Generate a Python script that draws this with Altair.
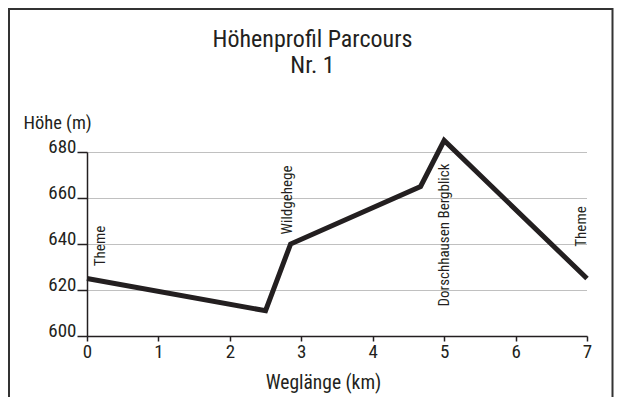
import altair as alt
import pandas as pd

# ---- data ----
km = [0.0, 2.5, 2.85, 4.67, 5.0, 7.0]
elev = [625, 611, 640, 665, 685, 625]

label_km = [0.0, 2.85, 5.0, 7.0]
label_elev = [625, 640, 685, 625]
label_text = ["Theme", "Wildgehege", "Dorschhausen Bergblick", "Theme"]

x_ticks = [0, 1, 2, 3, 4, 5, 6, 7]
y_ticks = [600, 620, 640, 660, 680]

title_lines = ["Höhenprofil Parcours", "Nr. 1"]
x_title = "Weglänge (km)"
y_title = "Höhe (m)"

# ---- styling ----
FONT = "Roboto Condensed, Liberation Sans Narrow, DejaVu Sans Condensed, Arial Narrow, sans-serif"
INK = "#231f20"
label_offsets = [(32.5, 18), (44, 1.5), (-94.5, 5), (52, -1.5)]

df = pd.DataFrame({"km": km, "elev": elev})
lab = pd.DataFrame({"km": label_km, "elev": label_elev, "text": label_text})

xscale = alt.Scale(domain=[0, 7], nice=False, zero=False)
yscale = alt.Scale(domain=[600, 680], nice=False, zero=False)

x_axis = alt.Axis(
    values=x_ticks, format="d", title=x_title, grid=False,
    domainColor=INK, domainWidth=1.5, tickColor=INK, tickWidth=1.5, tickSize=5,
    labelFont=FONT, labelFontSize=19, labelColor=INK, labelBaseline="alphabetic",
    labelPadding=16, labelFlush=False, labelOverlap=False,
    titleFont=FONT, titleFontSize=19.5, titleColor=INK, titleFontWeight="normal",
    titleX=236, titleY=52, titleBaseline="alphabetic", titleAlign="center",
)
y_axis = alt.Axis(
    values=y_ticks, format="d", title=y_title, grid=True,
    gridColor="#808080", gridDash=[1, 1], gridWidth=1,
    domainColor=INK, domainWidth=1.5, tickColor=INK, tickWidth=1.5, tickSize=10,
    labelFont=FONT, labelFontSize=19, labelColor=INK, labelBaseline="alphabetic",
    labelPadding=1, labelFlush=False, labelOverlap=False,
    titleFont=FONT, titleFontSize=18.5, titleColor=INK, titleFontWeight="normal",
    titleAngle=0, titleAlign="left", titleBaseline="alphabetic", titleX=-64, titleY=-24,
)

line = alt.Chart(df).mark_line(
    color=INK, strokeWidth=5, strokeJoin="miter", strokeCap="butt"
).encode(
    x=alt.X("km:Q", scale=xscale, axis=x_axis),
    y=alt.Y("elev:Q", scale=yscale, axis=y_axis),
)

label_layers = []
for i, (ddx, ddy) in enumerate(label_offsets):
    label_layers.append(
        alt.Chart(lab.iloc[[i]]).mark_text(
            angle=270, align="center", baseline="alphabetic", dx=ddx, dy=ddy,
            font=FONT, fontSize=15, color=INK,
        ).encode(
            x=alt.X("km:Q", scale=xscale),
            y=alt.Y("elev:Q", scale=yscale),
            text="text:N",
        )
    )

frame = alt.Chart(pd.DataFrame({"f": [0]})).mark_rect(
    fill="transparent", stroke="#333333", strokeWidth=2
).encode(
    x=alt.value(-78), x2=alt.value(525.5), y=alt.value(-143), y2=alt.value(400)
)

chart = alt.layer(frame, line, *label_layers).properties(
    width=500, height=184,
    padding={"left": 79, "top": 144, "right": 27, "bottom": 61},
    autosize=alt.AutoSizeParams(type="none"),
    background="white",
    title=alt.TitleParams(
        text=title_lines, font=FONT, fontSize=24, fontWeight="normal", color=INK,
        anchor="middle", dx=-24.5, offset=-94, lineHeight=26, baseline="bottom",
        frame="group",
    ),
).configure_view(stroke=None)

chart.save("out.html", embed_options={"renderer": "svg", "actions": False})
